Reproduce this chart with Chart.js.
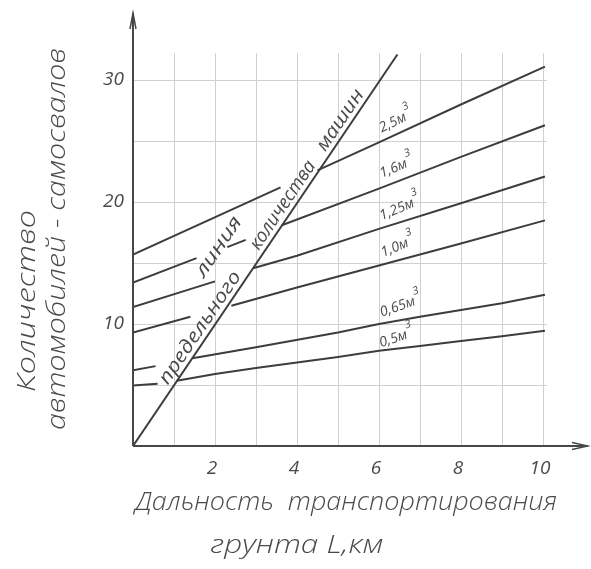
<!DOCTYPE html>
<html>
<head>
<meta charset="utf-8">
<script src="https://cdn.jsdelivr.net/npm/chart.js@4/dist/chart.umd.min.js"></script>
<style>
html, body { margin: 0; padding: 0; background: #fff; }
</style>
</head>
<body>
<canvas id="nomogram" width="591" height="569"></canvas>
<script>
// оси
var xMax = 11.1, yMax = 35.5;
var xTicks = [2, 4, 6, 8, 10];
var yTicks = [10, 20, 30];
var xGrid = [1, 2, 3, 4, 5, 6, 7, 8, 9, 10];
var yGrid = [5, 10, 15, 20, 25, 30];
var gridTop = 32.2, gridRight = 10.1;

// ёмкость ковша экскаватора, м3
var volumes = ['0,5', '0,65', '1,0', '1,25', '1,6', '2,5'];

// кривые (null - разрыв под надписью)
var x05 = [0, 0.6, 0.85, 1.07, 2, 3, 4, 5, 6, 7, 8, 9, 10.05];
var y05 = [4.95, 5.1, null, 5.35, 5.9, 6.4, 6.85, 7.3, 7.8, 8.2, 8.6, 9.0, 9.45];
var x065 = [0, 0.55, 1.0, 1.45, 3, 5, 6, 7, 8, 9, 10.05];
var y065 = [6.2, 6.55, null, 7.2, 8.1, 9.3, 10.0, 10.6, 11.15, 11.7, 12.4];
var x10 = [0, 1.4, 1.9, 2.4, 4, 6, 8, 10.05];
var y10 = [9.3, 10.6, null, 11.5, 13.0, 14.8, 16.6, 18.5];
var x125 = [0, 2.0, 2.5, 2.95, 4, 6, 8, 10.05];
var y125 = [11.4, 13.5, null, 14.6, 15.6, 17.8, 19.9, 22.1];
var x16 = [0, 1.55, 1.9, 2.3, 2.75, 3.2, 3.63, 6, 8, 10.05];
var y16 = [13.4, 15.4, null, 16.3, 16.9, null, 18.1, 21.1, 23.7, 26.3];
var x25 = [0, 3.6, 4.0, 4.5, 6, 8, 10.05];
var y25 = [15.7, 21.2, null, 22.6, 24.9, 28.0, 31.1];

// линия предельного количества машин
var limitX = [0, 6.45];
var limitY = [0, 32.1];

var curveX = [x05, x065, x10, x125, x16, x25];
var curveY = [y05, y065, y10, y125, y16, y25];

// подписи кривых: левый край строки (в единицах осей) и наклон
var labelX = [6.05, 6.07, 6.1, 6.07, 6.07, 6.07];
var labelY = [8.1, 10.6, 15.5, 18.5, 22.0, 25.7];
var labelRot = [18, 19, 22, 23, 22, 26];

var ink = '#3d3d3d';
var textInk = '#4a4a4a';
var fontFamily = "'Open Sans', 'DejaVu Sans', sans-serif";

function points(xs, ys) {
	return xs.map(function(v, i) { return { x: v, y: ys[i] }; });
}

var datasets = curveX.map(function(xs, i) {
	return {
		label: volumes[i] + ' м3',
		data: points(xs, curveY[i]),
		borderColor: ink,
		borderWidth: 2,
		pointRadius: 0,
		tension: 0,
		fill: false,
		spanGaps: false
	};
});
datasets.push({
	label: 'линия предельного количества машин',
	data: points(limitX, limitY),
	borderColor: ink,
	borderWidth: 2,
	pointRadius: 0,
	tension: 0,
	fill: false
});

function fitText(ctx, text, x, y, angle, width, align) {
	ctx.save();
	ctx.translate(x, y);
	ctx.rotate(angle);
	var w = ctx.measureText(text).width;
	if (width) ctx.scale(width / w, 1);
	ctx.textAlign = align || 'center';
	ctx.fillText(text, 0, 0);
	ctx.restore();
}

var drawings = {
	id: 'drawings',
	beforeDatasetsDraw: function(chart) {
		var ctx = chart.ctx, sx = chart.scales.x, sy = chart.scales.y;
		ctx.save();
		ctx.strokeStyle = '#d0d0d0';
		ctx.lineWidth = 1;
		ctx.beginPath();
		xGrid.forEach(function(v) {
			var px = Math.round(sx.getPixelForValue(v)) + 0.5;
			ctx.moveTo(px, sy.getPixelForValue(0));
			ctx.lineTo(px, sy.getPixelForValue(gridTop));
		});
		yGrid.forEach(function(v) {
			var py = Math.round(sy.getPixelForValue(v)) + 0.5;
			ctx.moveTo(sx.getPixelForValue(0), py);
			ctx.lineTo(sx.getPixelForValue(gridRight), py);
		});
		ctx.stroke();
		ctx.restore();
	},
	afterDatasetsDraw: function(chart) {
		var ctx = chart.ctx, sx = chart.scales.x, sy = chart.scales.y;
		var x0 = sx.getPixelForValue(0), y0 = sy.getPixelForValue(0);
		var xEnd = sx.getPixelForValue(xMax), yEnd = sy.getPixelForValue(yMax);
		ctx.save();

		// оси со стрелками
		ctx.strokeStyle = '#474747';
		ctx.lineWidth = 2;
		ctx.beginPath();
		ctx.moveTo(x0, y0);
		ctx.lineTo(xEnd, y0);
		ctx.moveTo(x0, y0);
		ctx.lineTo(x0, yEnd);
		ctx.stroke();
		ctx.lineWidth = 1.5;
		ctx.beginPath();
		ctx.moveTo(xEnd - 16, y0 - 3.5);
		ctx.lineTo(xEnd, y0);
		ctx.lineTo(xEnd - 16, y0 + 3.5);
		ctx.moveTo(x0 - 3, yEnd + 16);
		ctx.lineTo(x0, yEnd);
		ctx.lineTo(x0 + 3, yEnd + 16);
		ctx.stroke();

		// подписи делений
		ctx.fillStyle = textInk;
		ctx.font = 'italic 19px ' + fontFamily;
		ctx.textBaseline = 'middle';
		yTicks.forEach(function(v) {
			fitText(ctx, String(v), x0 - 9, sy.getPixelForValue(v), 0, 0, 'right');
		});
		xTicks.forEach(function(v) {
			fitText(ctx, String(v), sx.getPixelForValue(v) - 3, y0 + 23, 0, 0, 'center');
		});

		// названия осей
		ctx.font = 'italic 300 26px ' + fontFamily;
		fitText(ctx, 'Дальность  транспортирования', 346, 503, 0, 422);
		fitText(ctx, 'грунта L,км', 297, 546, 0, 173);
		fitText(ctx, 'Количество', 28, 301, -Math.PI / 2, 182);
		fitText(ctx, 'автомобилей - самосвалов', 58, 239, -Math.PI / 2, 382);

		// надпись вдоль предельной линии
		var p0x = sx.getPixelForValue(limitX[0]), p0y = sy.getPixelForValue(limitY[0]);
		var p1x = sx.getPixelForValue(limitX[1]), p1y = sy.getPixelForValue(limitY[1]);
		var ang = Math.atan2(p1y - p0y, p1x - p0x);
		var nx = Math.sin(ang), ny = -Math.cos(ang);
		var slope = limitY[1] / limitX[1];
		ctx.textBaseline = 'alphabetic';
		ctx.font = 'italic 19px ' + fontFamily;
		var words = [['предельного', 1.85, 5, 132], ['количества', 3.87, 5, 103], ['машин', 5.27, 5, 70], ['линия', 2.91, 35, 69]];
		words.forEach(function(w) {
			var px = sx.getPixelForValue(w[1]) + nx * w[2];
			var py = sy.getPixelForValue(w[1] * slope) + ny * w[2];
			fitText(ctx, w[0], px, py, ang, w[3]);
		});

		// подписи ёмкостей ковша
		volumes.forEach(function(v, i) {
			var px = sx.getPixelForValue(labelX[i]), py = sy.getPixelForValue(labelY[i]);
			var a = -labelRot[i] * Math.PI / 180;
			ctx.save();
			ctx.translate(px, py);
			ctx.rotate(a);
			ctx.font = 'italic 14px ' + fontFamily;
			ctx.textAlign = 'left';
			var t = v + 'м';
			ctx.fillText(t, 0, 0);
			var w = ctx.measureText(t).width;
			ctx.font = 'italic 11px ' + fontFamily;
			ctx.fillText('3', w + 1, -10);
			ctx.restore();
		});
		ctx.restore();
	}
};

new Chart(document.getElementById('nomogram'), {
	type: 'line',
	data: { datasets: datasets },
	options: {
		responsive: false,
		animation: false,
		layout: { padding: { left: 133, right: 3, top: 13, bottom: 123 } },
		plugins: { legend: { display: false }, tooltip: { enabled: false } },
		scales: {
			x: { type: 'linear', min: 0, max: xMax, display: false },
			y: { type: 'linear', min: 0, max: yMax, display: false }
		}
	},
	plugins: [drawings]
});
</script>
</body>
</html>
